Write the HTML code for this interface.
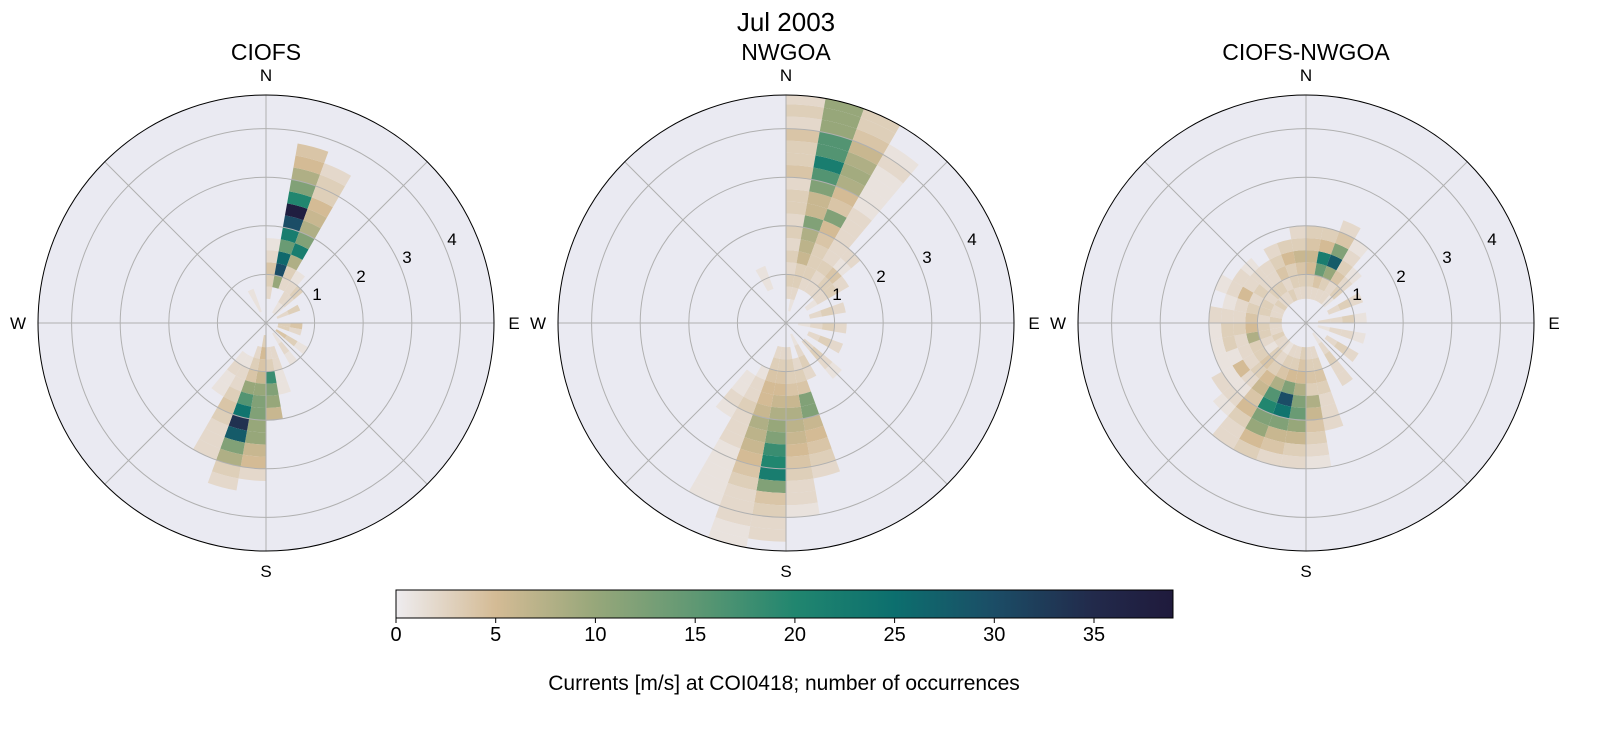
<!DOCTYPE html>
<html><head><meta charset="utf-8">
<style>
body{margin:0;background:#fff;}
svg text{font-family:"Liberation Sans","DejaVu Sans",sans-serif;fill:#000;}
</style></head>
<body>
<svg id="s" width="1611" height="724" xmlns="http://www.w3.org/2000/svg">
<defs>
<linearGradient id="cb" x1="0" x2="1" y1="0" y2="0">
<stop offset="0" stop-color="#eeecef"/>
<stop offset="0.128" stop-color="#d4bb95"/>
<stop offset="0.256" stop-color="#97a77a"/>
<stop offset="0.385" stop-color="#5f9873"/>
<stop offset="0.513" stop-color="#21866f"/>
<stop offset="0.641" stop-color="#0c6f6e"/>
<stop offset="0.769" stop-color="#1b4d66"/>
<stop offset="0.897" stop-color="#222a4b"/>
<stop offset="1" stop-color="#1f1a3c"/>
</linearGradient>
<clipPath id="c0"><circle cx="266" cy="323" r="228"/></clipPath>
<clipPath id="c1"><circle cx="786" cy="323" r="228"/></clipPath>
<clipPath id="c2"><circle cx="1306" cy="323" r="228"/></clipPath>
</defs>
<g id="plots"></g>
<text x="786" y="31" font-size="26" text-anchor="middle">Jul 2003</text>
<text x="266" y="60" font-size="23" text-anchor="middle">CIOFS</text>
<text x="786" y="60" font-size="23" text-anchor="middle">NWGOA</text>
<text x="1306" y="60" font-size="23" text-anchor="middle">CIOFS-NWGOA</text>
<rect x="396" y="590" width="777" height="28" fill="url(#cb)" stroke="#000" stroke-width="1"/>
<g font-size="20" text-anchor="middle">
<line x1="396" y1="618" x2="396" y2="623" stroke="#000"/><text x="396" y="641">0</text>
<line x1="495.7" y1="618" x2="495.7" y2="623" stroke="#000"/><text x="495.7" y="641">5</text>
<line x1="595.4" y1="618" x2="595.4" y2="623" stroke="#000"/><text x="595.4" y="641">10</text>
<line x1="695.2" y1="618" x2="695.2" y2="623" stroke="#000"/><text x="695.2" y="641">15</text>
<line x1="794.9" y1="618" x2="794.9" y2="623" stroke="#000"/><text x="794.9" y="641">20</text>
<line x1="894.6" y1="618" x2="894.6" y2="623" stroke="#000"/><text x="894.6" y="641">25</text>
<line x1="994.3" y1="618" x2="994.3" y2="623" stroke="#000"/><text x="994.3" y="641">30</text>
<line x1="1094" y1="618" x2="1094" y2="623" stroke="#000"/><text x="1094" y="641">35</text>
</g>
<text x="784" y="690" font-size="21" text-anchor="middle">Currents [m/s] at COI0418; number of occurrences</text>
</svg>
<script>
var stops=[[0,[238,236,239]],[5,[212,187,149]],[10,[151,167,122]],[15,[95,152,115]],[20,[33,134,111]],[25,[12,111,110]],[30,[27,77,102]],[35,[34,42,75]],[39,[31,26,60]]];
function col(v){if(v>=39)v=39;for(var i=0;i<stops.length-1;i++){var a=stops[i],b=stops[i+1];if(v<=b[0]){var t=(v-a[0])/(b[0]-a[0]);var c=a[1].map(function(x,k){return Math.round(x+(b[1][k]-x)*t)});return 'rgb('+c.join(',')+')';}}}
var S=48.6,R=228,B=0.25;
function pt(cx,cy,r,d){var a=d*Math.PI/180;return (cx+r*Math.sin(a)).toFixed(2)+','+(cy-r*Math.cos(a)).toFixed(2);}
function wedge(cx,cy,r1,r2,d1,d2){return 'M'+pt(cx,cy,r1,d1)+'L'+pt(cx,cy,r2,d1)+'A'+r2+','+r2+' 0 0 1 '+pt(cx,cy,r2,d2)+'L'+pt(cx,cy,r1,d2)+(r1>0?'A'+r1+','+r1+' 0 0 0 '+pt(cx,cy,r1,d1):'')+'Z';}
var g=document.getElementById('plots'),h='';
function plot(cx,cy,data,id){
 h+='<circle cx="'+cx+'" cy="'+cy+'" r="'+R+'" fill="#eaeaf2"/><g clip-path="url(#'+id+')">';
 data.forEach(function(e){var s=e[0],i0=e[1],c=e[2];c.forEach(function(v,k){if(v<=0)return;var r1=(i0+k)*B*S,r2=(i0+k+1)*B*S;h+='<path d="'+wedge(cx,cy,r1,r2,s,s+10)+'" fill="'+col(v)+'"/>';});});
 h+='</g>';
 for(var k=1;k<=4;k++)h+='<circle cx="'+cx+'" cy="'+cy+'" r="'+(k*S)+'" fill="none" stroke="#b0b0b0" stroke-width="1"/>';
 for(var a=0;a<360;a+=45){var p=pt(cx,cy,R,a).split(',');h+='<line x1="'+cx+'" y1="'+cy+'" x2="'+p[0]+'" y2="'+p[1]+'" stroke="#b0b0b0" stroke-width="1"/>';}
 h+='<circle cx="'+cx+'" cy="'+cy+'" r="'+R+'" fill="none" stroke="#000" stroke-width="1"/>';
 h+='<g font-size="17" text-anchor="middle"><text x="'+cx+'" y="'+(cy-242)+'">N</text><text x="'+cx+'" y="'+(cy+254)+'">S</text><text x="'+(cx+248)+'" y="'+(cy+6)+'">E</text><text x="'+(cx-248)+'" y="'+(cy+6)+'">W</text>';
 var lp=[[51,-29],[95,-47],[141,-66],[186,-84]];
 lp.forEach(function(p,i){h+='<text x="'+(cx+p[0])+'" y="'+(cy+p[1]+6)+'">'+(i+1)+'</text>';});
 h+='</g>';
}
var d1=[
[0,2,[2,3,4,2,1]],
[10,3,[10,30,26,14,22,30,38,20,12,8,5,4]],
[20,3,[2,3,8,22,12,8,6,5,3,3,2]],
[30,1,[1,2,2,1]],
[40,1,[1,2,3]],
[60,1,[2,3]],
[90,1,[3,4]],
[100,1,[3,2]],
[120,1,[4,3,1]],
[140,1,[1,2,1]],
[160,2,[2,2,1,1]],
[170,2,[2,3,18,12,10,6]],
[180,1,[3,5,4,6,10,12,12,10,10,6,5,2]],
[190,2,[2,3,4,10,16,24,34,28,12,8,3,2]],
[200,3,[1,2,2,3,4,3,2,2,2]],
[210,3,[1,2,1,1]],
[330,1,[1,1]]
];
var d2=[
[0,2,[2,3,2,3,2,3,2,3,3,2,4,3,3,4,2,3,2]],
[10,1,[1,2,3,3,6,7,8,12,6,6,12,16,22,16,16,10,10,10,5,5]],
[20,3,[2,3,3,3,4,5,12,4,5,8,9,8,6,4,3,3,3,2]],
[30,3,[2,2,3,2,2,2,2,2,1,1,1,1,2,1]],
[40,3,[2,3,4,1,2]],
[50,2,[1,2,3,2]],
[70,2,[2,3,2]],
[90,1,[1,2,3,2]],
[110,2,[2,3,2]],
[130,2,[2,3,2,1]],
[150,1,[1,2,3,2]],
[160,3,[2,3,4,12,12,6,5,4,3,2]],
[170,2,[2,3,3,4,6,8,7,6,5,4,3,2,2,1]],
[180,2,[2,3,4,5,6,8,10,12,18,20,22,12,4,3,2,2]],
[190,2,[2,3,4,5,5,6,8,7,6,5,4,3,2,2,2,1,1]],
[200,4,[1,2,2,3,2,2,2,1,1,1,1,1]],
[210,5,[1,1,2,1]],
[330,3,[1,1]]
];
var d3=[
[0,2,[2,3,5,6,4,3]],
[10,2,[2,4,14,22,5,3]],
[20,2,[2,3,10,28,12,4,2]],
[30,2,[2,2,4,3,2,1]],
[40,2,[1,3,2,1]],
[60,2,[2,3,2]],
[80,1,[2,2,3,1]],
[100,1,[1,2,2,1]],
[120,2,[2,3,2]],
[140,1,[1,2,3,2,2]],
[160,2,[2,3,4,3,2,2,2]],
[170,2,[2,3,4,3,8,6,4,3,2,1]],
[180,2,[3,4,5,8,12,14,10,6,3,2]],
[190,2,[2,3,5,12,30,24,12,6,4,2]],
[200,2,[2,3,4,8,16,20,12,10,5,3]],
[210,2,[1,2,3,5,6,4,5,3,2,2]],
[220,2,[2,3,4,3,2,1,2,1]],
[230,2,[2,1,3,2,5,1,2]],
[240,2,[3,2,3,2,1,1]],
[250,2,[2,3,8,2,3,1]],
[260,2,[2,3,5,3,3,1]],
[270,2,[3,2,4,2,2,2]],
[280,2,[2,3,3,2,1]],
[290,2,[2,3,2,5,2,1]],
[300,2,[3,2,3,2,2]],
[310,2,[2,3,2,2,1]],
[320,2,[2,3,2,2]],
[330,2,[3,2,4,3,2]],
[340,2,[2,3,3,5,3]],
[350,2,[2,3,4,6,3,2]]
];
plot(266,323,d1,'c0');plot(786,323,d2,'c1');plot(1306,323,d3,'c2');
g.innerHTML=h;
</script>
</body></html>
